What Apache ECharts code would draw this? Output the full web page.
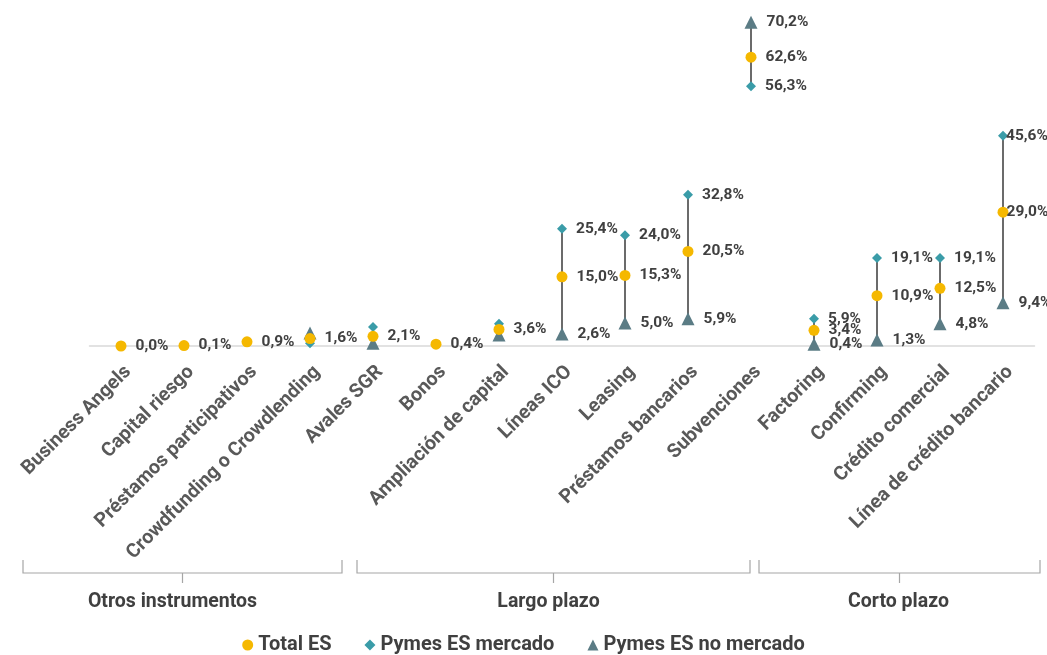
<!DOCTYPE html>
<html><head><meta charset="utf-8">
<script src="https://cdn.jsdelivr.net/npm/echarts@6/dist/echarts.min.js"></script>
<style>html,body{margin:0;padding:0;background:#fff}#c{width:1047px;height:655px}</style>
</head><body><div id="c"></div>
<script>
const categories = ['Business Angels','Capital riesgo','Préstamos participativos','Crowdfunding o Crowdlending','Avales SGR','Bonos','Ampliación de capital','Líneas ICO','Leasing','Préstamos bancarios','Subvenciones','Factoring','Confirming','Crédito comercial','Línea de crédito bancario'];
const totalES =      [0.0, 0.1, 0.9, 1.6, 2.1, 0.4, 3.6, 15.0, 15.3, 20.5, 62.6, 3.4, 10.9, 12.5, 29.0];
const pymesMercado = [null, null, null, 0.6, 4.1, null, 4.8, 25.4, 24.0, 32.8, 56.3, 5.9, 19.1, 19.1, 45.6];
const pymesNoMercado=[null, null, null, 2.8, 0.6, null, 2.4, 2.6, 5.0, 5.9, 70.2, 0.4, 1.3, 4.8, 9.4];
const onlyTotalLabel = ['Crowdfunding o Crowdlending','Avales SGR','Ampliación de capital'];
const groups = [
  {name:'Otros instrumentos', from:0, to:3},
  {name:'Largo plazo', from:4, to:10},
  {name:'Corto plazo', from:11, to:14}
];

const fmt = v => v.toFixed(1).replace('.', ',') + '%';
const labelStyle = {show:true, position:'right', distance:9, fontFamily:'Roboto', fontWeight:'bold', fontSize:15.5, color:'#404040', formatter: p => fmt(p.value[1])};

function build(arr, isTotal, tight) {
  return arr.map((v,i) => {
    if (v === null) return null;
    const item = {value:[i, v]};
    const showLbl = isTotal || onlyTotalLabel.indexOf(categories[i]) < 0;
    item.label = Object.assign({}, labelStyle, {show: showLbl});
    if (tight && i === categories.length - 1) item.label.distance = -2;
    return item;
  }).filter(d => d !== null);
}

const rangeData = categories.map((c,i) => {
  const vals = [totalES[i], pymesMercado[i], pymesNoMercado[i]].filter(v => v !== null);
  return [i, Math.min(...vals), Math.max(...vals)];
}).filter(d => d[2] - d[1] > 5);

const chart = echarts.init(document.getElementById('c'));
chart.setOption({
  animation:false,
  grid:{left:89.5, right:12.5, top:0, bottom:309, containLabel:false},
  legend:{
    top:630, left:'center', itemGap:33, itemWidth:11, itemHeight:11,
    textStyle:{fontFamily:'Roboto', fontWeight:'bold', fontSize:20, color:'#404040'},
    data:[{name:'Total ES', icon:'circle'},{name:'Pymes ES mercado', icon:'diamond'},{name:'Pymes ES no mercado', icon:'triangle'}]
  },
  xAxis:{
    type:'category', data:categories,
    axisLine:{lineStyle:{color:'#d9d9d9', width:1.5}},
    axisTick:{show:false},
    axisLabel:{rotate:45, interval:0, margin:16, verticalAlign:'top', fontFamily:'Roboto', fontWeight:'bold', fontSize:19.5, color:'#595959'}
  },
  yAxis:{type:'value', min:0, max:75, show:false, splitLine:{show:false}},
  series:[
    {
      type:'custom', name:'range', silent:true, z:1,
      renderItem:(params, api) => {
        const p1 = api.coord([api.value(0), api.value(1)]);
        const p2 = api.coord([api.value(0), api.value(2)]);
        return {type:'line', shape:{x1:p1[0], y1:p1[1], x2:p2[0], y2:p2[1]}, style:{stroke:'#6b6b6b', lineWidth:2}};
      },
      data:rangeData
    },
    {name:'Pymes ES mercado', type:'scatter', symbol:'diamond', symbolSize:10, z:3,
      itemStyle:{color:'#3a9ca8', opacity:1}, data:build(pymesMercado, false, true)},
    {name:'Pymes ES no mercado', type:'scatter', symbol:'triangle', symbolSize:13, z:3,
      itemStyle:{color:'#5b7c85', opacity:1}, data:build(pymesNoMercado, false, false)},
    {name:'Total ES', type:'scatter', symbol:'circle', symbolSize:11, z:4,
      itemStyle:{color:'#f5b800', opacity:1}, data:build(totalES, true, true)}
  ]
});

// group brackets
const gfx = [];
const xOf = i => chart.convertToPixel({xAxisIndex:0}, i);
const bracketOffsets = [[-98, 32, -10], [-16, -1, -5], [-55, 37, -1]];
groups.forEach((g, k) => {
  const l = xOf(g.from) + bracketOffsets[k][0];
  const r = xOf(g.to) + bracketOffsets[k][1];
  const c = (l + r) / 2;
  gfx.push({type:'polyline', shape:{points:[[l,560],[l,573],[r,573],[r,560]]}, style:{stroke:'#a6a6a6', lineWidth:1.2, fill:null}, silent:true});
  gfx.push({type:'line', shape:{x1:c, y1:573, x2:c, y2:583}, style:{stroke:'#a6a6a6', lineWidth:1.2}, silent:true});
  gfx.push({type:'text', x:c + bracketOffsets[k][2], y:602, style:{text:g.name, fontFamily:'Roboto', fontWeight:'bold', fontSize:19.5, fill:'#404040', textAlign:'center', textVerticalAlign:'middle'}, silent:true});
});
chart.setOption({graphic:gfx});
</script>
</body></html>
